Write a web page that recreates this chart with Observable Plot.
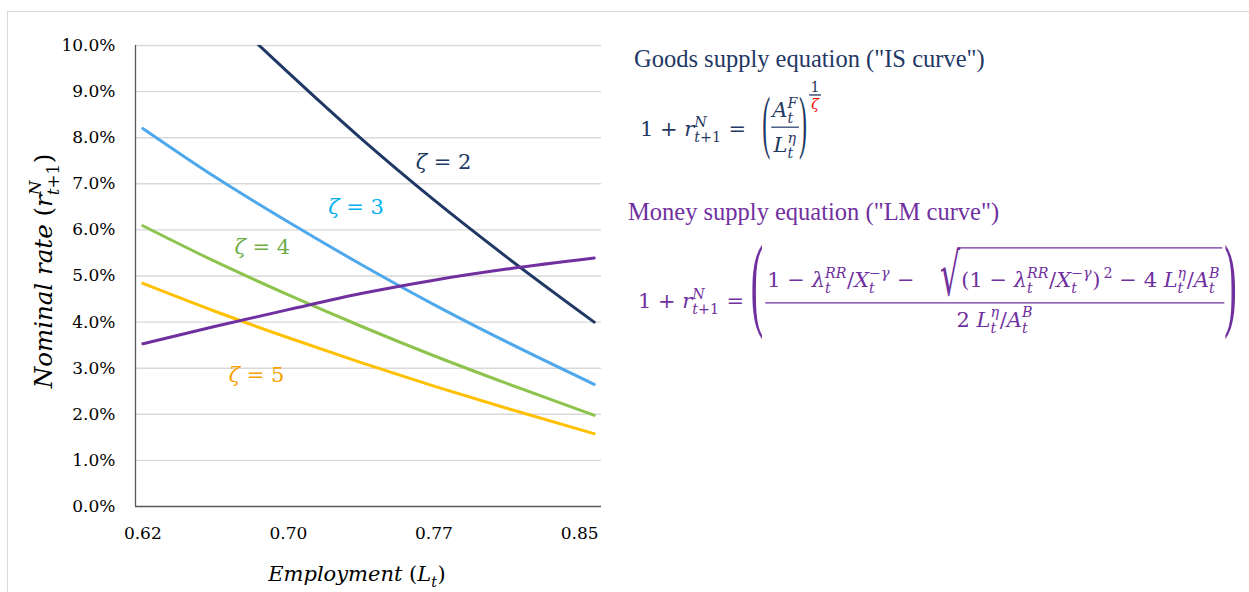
<!DOCTYPE html>
<html>
<head>
<meta charset="utf-8">
<script src="https://cdn.jsdelivr.net/npm/d3@7"></script>
<script src="https://cdn.jsdelivr.net/npm/@observablehq/plot@0.6"></script>
<style>
  html, body { margin: 0; background: #fff; }
  #page { position: relative; width: 1249px; height: 592px; overflow: hidden; background: #fff; }
  #frame { position: absolute; left: 7px; top: 11px; width: 1400px; height: 800px;
           border-left: 1px solid #d9d9d9; border-top: 1px solid #d9d9d9; }
  #chart { position: absolute; left: 0; top: 0; }
  #notes { position: absolute; left: 0; top: 0; }
  #notes text { white-space: pre; font-family: "DejaVu Serif", serif; }
  #notes text.title, #notes text.delim { font-family: "Liberation Serif", serif; }
</style>
</head>
<body>
<div id="page">
  <div id="frame"></div>
  <div id="chart"></div>
  <svg id="notes" width="1249" height="592"></svg>
</div>
<script>
// Employment L_t along the horizontal axis
const employment = [0.62, 0.6587, 0.6974, 0.7361, 0.7748, 0.8135, 0.86];

// Goods supply (IS) curves, nominal rate r^N_{t+1} for each zeta
const isZeta2 = [0.1255, 0.1091, 0.0941, 0.0798, 0.0665, 0.0541, 0.0400];
const isZeta3 = [0.0820, 0.0714, 0.0617, 0.0525, 0.0438, 0.0357, 0.0265];
const isZeta4 = [0.0609, 0.0531, 0.0459, 0.0391, 0.0327, 0.0267, 0.0198];
const isZeta5 = [0.0484, 0.0423, 0.0366, 0.0312, 0.0261, 0.0213, 0.0158];

// Money supply (LM) curve
const lmCurve = [0.0353, 0.0391, 0.0427, 0.0462, 0.0491, 0.0515, 0.0539];

// Axis ticks
const xTicks = [0.62, 0.6974, 0.7748, 0.8523];
const yTicks = [0, 0.01, 0.02, 0.03, 0.04, 0.05, 0.06, 0.07, 0.08, 0.09, 0.10];

// Curve labels
const zetaLabelText = ["ζ = 2", "ζ = 3", "ζ = 4", "ζ = 5"];
const zetaLabelAt = [
  {x: 0.7799, y: 0.0746},
  {x: 0.7334, y: 0.0649},
  {x: 0.6835, y: 0.0562},
  {x: 0.6805, y: 0.0285}
];

const lineColor = {z2: "#203864", z3: "#4fa8ec", z4: "#8dc44e", z5: "#ffc000", lm: "#7030a0"};
const labelColor = ["#203864", "#00b0f0", "#70ad47", "#f5a200"];

const curves = [
  {values: isZeta2, color: lineColor.z2},
  {values: isZeta3, color: lineColor.z3},
  {values: isZeta4, color: lineColor.z4},
  {values: isZeta5, color: lineColor.z5},
  {values: lmCurve, color: lineColor.lm}
];

const labels = zetaLabelText.map((text, k) => ({text, ...zetaLabelAt[k], color: labelColor[k]}));
const xDomain = [0.616119, 0.863881];

const chart = Plot.plot({
  width: 620,
  height: 592,
  marginTop: 45,
  marginBottom: 86,
  marginLeft: 135,
  marginRight: 19,
  style: {fontFamily: '"DejaVu Serif", serif', fontSize: "17px", color: "#000", background: "transparent"},
  x: {type: "linear", domain: xDomain},
  y: {domain: [0, 0.1]},
  marks: [
    Plot.gridY(yTicks.slice(1), {stroke: "#d9d9d9", strokeOpacity: 1, strokeWidth: 1.4}),
    Plot.axisY(yTicks, {tickSize: 0, tickPadding: 20, tickFormat: d3.format(".1%"), label: null}),
    Plot.axisX(xTicks, {tickSize: 0, tickPadding: 20, tickFormat: d3.format(".2f"), label: null}),
    Plot.ruleX([xDomain[0]], {stroke: "#595959", strokeWidth: 1.3}),
    Plot.ruleY([0], {stroke: "#595959", strokeWidth: 1.3}),
    ...curves.map(c => Plot.line(
      employment.map((e, k) => ({x: e, y: c.values[k]})),
      {x: "x", y: "y", stroke: c.color, strokeWidth: 3, curve: "monotone-x", clip: true}
    )),
    Plot.text(labels, {x: "x", y: "y", text: "text", fill: "color", fontSize: 21, textAnchor: "middle", lineAnchor: "middle"})
  ]
});
document.getElementById("chart").appendChild(chart);

// italic zeta in the curve labels
d3.select(chart).selectAll('g[aria-label="text"] text').each(function () {
  const s = this.textContent;
  this.textContent = "";
  d3.select(this).append("tspan").attr("font-style", "italic").text(s.slice(0, 1));
  d3.select(this).append("tspan").text(s.slice(1));
});

// ---- small math typesetter for the axis titles and equations ----
const SVGNS = "http://www.w3.org/2000/svg";
const notes = document.getElementById("notes");
function el(parent, name, attrs) {
  const e = document.createElementNS(SVGNS, name);
  for (const k in attrs) e.setAttribute(k, attrs[k]);
  parent.appendChild(e);
  return e;
}
function word(g, s, x, y, size, italic, fill, cls) {
  const t = el(g, "text", {x, y, "font-size": size, fill});
  if (italic) t.setAttribute("font-style", "italic");
  if (cls) t.setAttribute("class", cls);
  t.textContent = s;
  return t.getComputedTextLength();
}
function lay(g, toks, size, x, y, fill) {
  for (const tk of toks) {
    if (typeof tk === "string") x += word(g, tk, x, y, size, false, fill);
    else if ("i" in tk) x += word(g, tk.i, x, y, size, true, tk.fill || fill);
    else if ("gap" in tk) x += tk.gap * size;
    else if ("base" in tk) {
      x = lay(g, tk.base, size, x, y, fill);
      const s = size * 0.68;
      const a = tk.sup ? lay(g, tk.sup, s, x, y - 0.45 * size, fill) : x;
      const b = tk.sub ? lay(g, tk.sub, s, x, y + 0.3 * size, fill) : x;
      x = Math.max(a, b) + 0.03 * size;
    } else if ("raise" in tk) {
      x = lay(g, tk.raise, size * (tk.scale || 0.68), x + (tk.dx || 0) * size, y - tk.dy * size, fill);
    } else if ("num" in tk) {
      const axis = y - (tk.axis ?? 0.3) * size;
      const gn = el(g, "g", {}), gd = el(g, "g", {});
      const wn = lay(gn, tk.num, size, 0, 0, fill);
      const wd = lay(gd, tk.den, size, 0, 0, fill);
      const pad = (tk.pad ?? 0.1) * size;
      const w = Math.max(wn, wd) + 2 * pad;
      gn.setAttribute("transform", `translate(${x + (w - wn) / 2},${axis - (tk.up ?? 0.32) * size})`);
      gd.setAttribute("transform", `translate(${x + (w - wd) / 2},${axis + (tk.down ?? 0.95) * size})`);
      el(g, "line", {x1: x, x2: x + w, y1: axis, y2: axis, stroke: fill, "stroke-width": tk.bar ?? 1.2});
      x += w;
    } else if ("paren" in tk) {
      // stretched delimiter centred on a given height above the baseline
      const fs = tk.h / 0.85;
      const cy = y - (tk.axis ?? 0.3) * size;
      const gp = el(g, "g", {transform: `translate(${x},${cy}) scale(${tk.sx},1)`});
      const w = word(gp, tk.paren, 0, 0.25 * fs, fs, false, fill, "delim");
      x += w * tk.sx + (tk.after || 0) * size;
    } else if ("sqrt" in tk) {
      const gr = el(g, "g", {transform: `translate(${x},${y + tk.drop * size}) scale(${tk.sx},${tk.sy})`});
      const w = word(gr, "√", 0, 0, size, false, fill) * tk.sx;
      const x0 = x + w;
      const x1 = lay(g, tk.sqrt, size, x0 + 0.05 * size, y, fill);
      const top = y - tk.top * size;
      el(g, "line", {x1: x0 - 1, x2: x1 + 0.1 * size, y1: top, y2: top, stroke: fill, "stroke-width": 1.2});
      x = x1 + 0.1 * size;
    }
  }
  return x;
}
function place(toks, size, fill, transformFn, cls) {
  const g = el(notes, "g", {});
  const w = lay(g, toks, size, 0, 0, fill);
  if (cls) g.querySelectorAll("text").forEach(t => t.setAttribute("class", cls));
  g.setAttribute("transform", transformFn(w));
  return w;
}

const rN = {base: [{i: "r"}], sup: [{i: "N"}], sub: [{i: "t"}, "+1"]};
const lam = {base: [{i: "λ"}], sup: [{i: "RR"}], sub: [{i: "t"}]};
const Xg = {base: [{i: "X"}], sup: ["−", {i: "γ"}], sub: [{i: "t"}]};
const Leta = {base: [{i: "L"}], sup: [{i: "η"}], sub: [{i: "t"}]};
const AB = {base: [{i: "A"}], sup: [{i: "B"}], sub: [{i: "t"}]};
const AF = {base: [{i: "A"}], sup: [{i: "F"}], sub: [{i: "t"}]};

// axis titles
place([{i: "Nominal rate "}, "(", rN, ")"], 24.5, "#000", w => `translate(52,${271 + w / 2}) rotate(-90)`);
place([{i: "Employment "}, "(", {base: [{i: "L"}], sub: [{i: "t"}]}, ")"], 21, "#000", w => `translate(${357 - w / 2},581)`);

// IS block
const navy = "#1f3864";
place(['Goods supply equation ("IS curve")'], 24.5, navy, () => "translate(634,67)", "title");
place(["1 + ", rN, " = ", {gap: 0.45},
  {paren: "(", h: 60, sx: 0.34, axis: 0.42, after: 0.05},
  {num: [AF], den: [Leta], pad: 0.05, axis: 0.42, up: 0.48, down: 1.19},
  {paren: ")", h: 60, sx: 0.34, axis: 0.42},
  {raise: [{num: ["1"], den: [{i: "ζ", fill: "#ff0000"}], pad: 0.1, bar: 1.3, axis: 0.3, up: 0.22, down: 0.98}], dy: 1.75, scale: 0.68, dx: 0.1}
], 21, navy, () => "translate(640,136)");

// LM block
const purple = "#7030a0";
place(['Money supply equation ("LM curve")'], 24.5, purple, () => "translate(628,220)", "title");
place(["1 + ", rN, " = ",
  {paren: "(", h: 88, sx: 0.36, axis: 0.81, after: 0.1},
  {num: ["1 − ", lam, "/", Xg, " − ", {gap: 0.9},
         {sqrt: ["(1 − ", lam, "/", Xg, ")", {gap: 0.15}, {raise: ["2"], dy: 0.45}, " − 4 ", Leta, "/", AB],
          drop: 0.38, sx: 1.5, sy: 2.8, top: 1.86}],
   den: ["2 ", Leta, "/", AB], pad: 0.1, axis: 0.24, up: 0.76, down: 1.14},
  {paren: ")", h: 88, sx: 0.36, axis: 0.81}
], 21, purple, () => "translate(638,308)");
</script>
</body>
</html>
